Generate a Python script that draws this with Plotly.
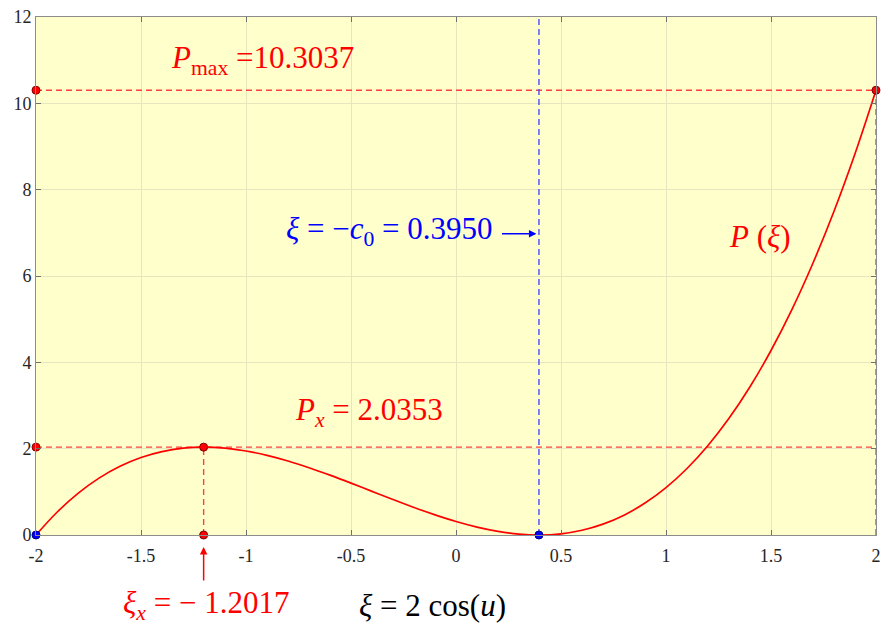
import plotly.graph_objects as go

# P(xi) sampled along the xi axis
xi = [-2.0, -1.9, -1.8, -1.7, -1.6, -1.5, -1.4, -1.3, -1.2017, -1.1, -1.0,
      -0.9, -0.8, -0.7, -0.6, -0.5, -0.4, -0.3, -0.2, -0.1, 0.0, 0.1, 0.2,
      0.3, 0.395, 0.5, 0.6, 0.7, 0.8, 0.9, 1.0, 1.1, 1.2, 1.3, 1.4, 1.5,
      1.6, 1.7, 1.8, 1.9, 2.0]
p_vals = [0.0, 0.527, 0.964, 1.317, 1.592, 1.796, 1.933, 2.011, 2.0353, 2.012,
          1.946, 1.845, 1.714, 1.559, 1.386, 1.202, 1.011, 0.821, 0.637, 0.466,
          0.312, 0.183, 0.084, 0.021, 0.0, 0.028, 0.109, 0.251, 0.459, 0.740,
          1.098, 1.541, 2.074, 2.703, 3.434, 4.274, 5.227, 6.301, 7.501, 8.833,
          10.3037]

xi_min, xi_max = -2.0, 2.0
p_max = 10.3037
xi_x = -1.2017
p_x = 2.0353
xi_c0 = 0.3950
y_top = 12

x_ticks = [-2, -1.5, -1, -0.5, 0, 0.5, 1, 1.5, 2]
x_tick_text = ["-2", "-1.5", "-1", "-0.5", "0", "0.5", "1", "1.5", "2"]
y_ticks = [0, 2, 4, 6, 8, 10, 12]
y_tick_text = ["0", "2", "4", "6", "8", "10", "12"]

RED = "#FF0000"
DASH_RED = "#FF4040"
BLUE = "#0000FF"
DASH_BLUE = "#4A4AFF"
SERIF = "Times New Roman, Liberation Serif, serif"

fig = go.Figure()

dash = "6px,4px"
# reference lines
guides = [
    ([xi_min, xi_max], [p_max, p_max], DASH_RED),
    ([xi_min, xi_max], [p_x, p_x], DASH_RED),
    ([xi_x, xi_x], [0, p_x], DASH_RED),
    ([xi_max, xi_max], [0, p_max], DASH_RED),
    ([xi_c0, xi_c0], [0, y_top], DASH_BLUE),
]
for gx, gy, col in guides:
    fig.add_trace(go.Scatter(x=gx, y=gy, mode="lines",
                             line=dict(color=col, width=1.4, dash=dash),
                             hoverinfo="skip"))

# the curve
fig.add_trace(go.Scatter(x=xi, y=p_vals, mode="lines", line_shape="spline",
                         line=dict(color=RED, width=1.7)))

# marked points
fig.add_trace(go.Scatter(
    x=[xi_min, xi_max, xi_min, xi_x, xi_x],
    y=[p_max, p_max, p_x, p_x, 0],
    mode="markers",
    marker=dict(size=8, color=RED, line=dict(color="#800000", width=1)),
    cliponaxis=False))
fig.add_trace(go.Scatter(
    x=[xi_min, xi_c0], y=[0, 0], mode="markers",
    marker=dict(size=8, color=BLUE, line=dict(color="#000080", width=1)),
    cliponaxis=False))

ann_font = dict(family=SERIF, size=31)
annotations = [
    dict(x=-1.365, y=11.0, xanchor="left", yanchor="middle",
         text="<i>P</i><sub>max</sub> =10.3037", font=dict(ann_font, color=RED)),
    dict(x=-0.774, y=2.84, xanchor="left", yanchor="middle",
         text="<i>P<sub>x</sub></i> = 2.0353", font=dict(ann_font, color=RED)),
    dict(x=1.29, y=6.92, xanchor="left", yanchor="middle",
         text="<i>P</i> (<i>ξ</i>)", font=dict(ann_font, color=RED)),
    dict(x=-0.821, y=7.05, xanchor="left", yanchor="middle",
         text="<i>ξ</i> = −<i>c</i><sub>0</sub> = 0.3950", font=dict(ann_font, color=BLUE)),
    dict(x=xi_c0 - 0.012, y=6.98, ax=-36, ay=0, text="", showarrow=True,
         arrowhead=2, arrowsize=1, arrowwidth=1.5, arrowcolor=BLUE),
    dict(x=xi_x, y=-0.023, yref="paper", ax=0, ay=35, text="", showarrow=True,
         arrowhead=2, arrowsize=1, arrowwidth=1.5, arrowcolor=RED),
    dict(x=-1.19, y=-0.136, yref="paper", xanchor="center", yanchor="middle",
         text="<i>ξ<sub>x</sub></i> = − 1.2017", font=dict(ann_font, color=RED)),
    dict(x=-0.111, y=-0.136, yref="paper", xanchor="center", yanchor="middle",
         text="<i>ξ</i> = 2 cos(<i>u</i>)", font=dict(ann_font, color="#000000")),
]
for a in annotations:
    a.setdefault("showarrow", False)
    fig.add_annotation(**a)

axis_common = dict(
    showline=True, linecolor="#8c8c8c", linewidth=1, mirror="allticks",
    ticks="inside", ticklen=5, tickcolor="#707070",
    showgrid=True, gridcolor="#E6E6BE", gridwidth=1,
    zeroline=False, tickfont=dict(family=SERIF, size=18, color="#262626"),
)
fig.update_xaxes(range=[xi_min, xi_max], tickvals=x_ticks, ticktext=x_tick_text,
                 ticklabelstandoff=4, **axis_common)
fig.update_yaxes(range=[0, y_top], tickvals=y_ticks, ticktext=y_tick_text, **axis_common)

fig.update_layout(
    width=888, height=628,
    margin=dict(l=36, r=7, t=15, b=93),
    plot_bgcolor="#FFFFCC", paper_bgcolor="#FFFFFF",
    showlegend=False,
    font=dict(family=SERIF),
)

fig.write_html("out.html")
